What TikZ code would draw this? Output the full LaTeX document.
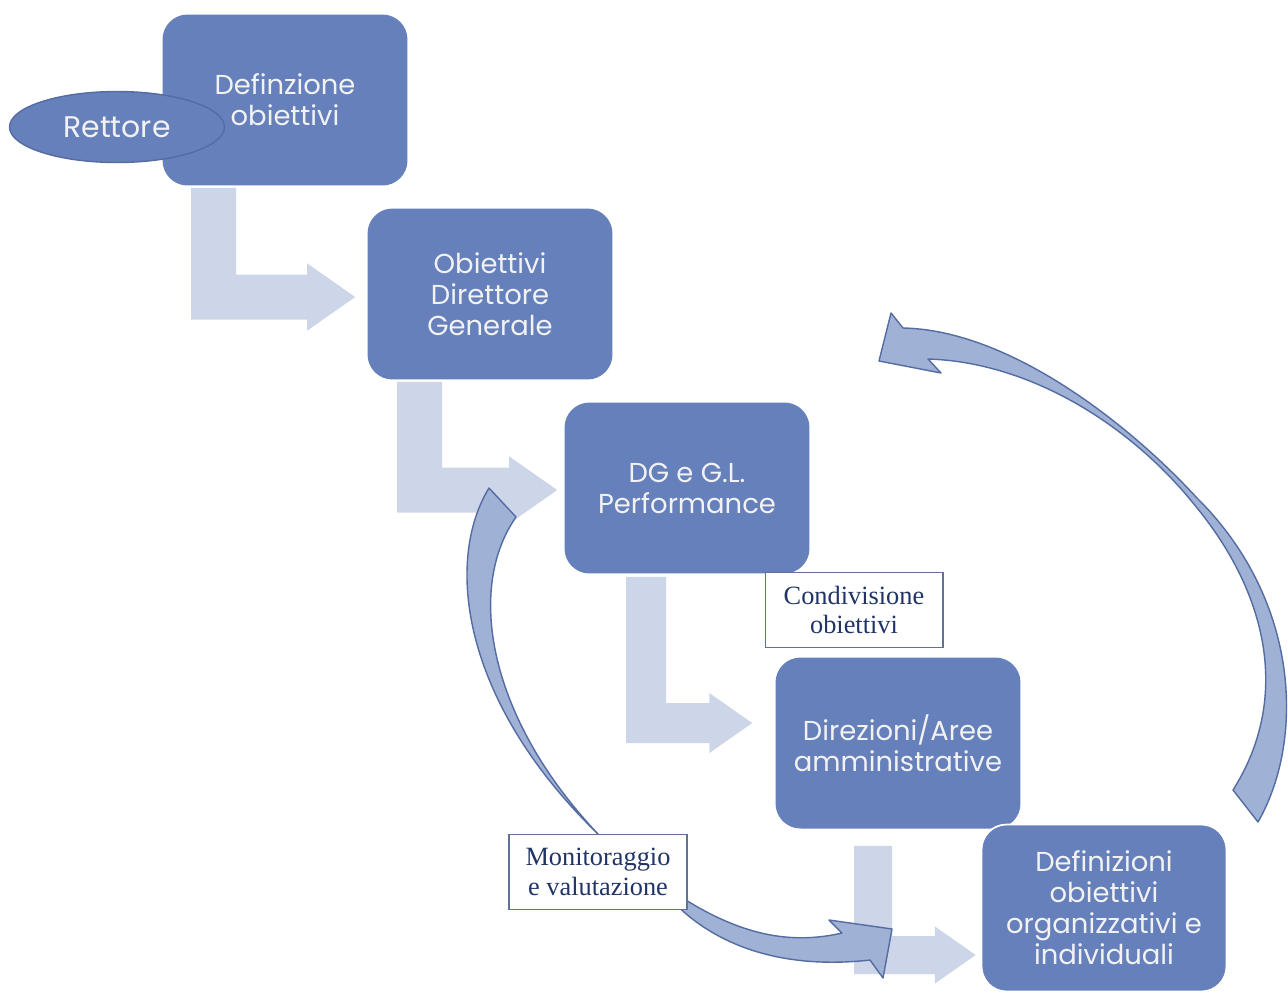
\documentclass[tikz,border=0pt]{standalone}
\usepackage{fontspec}
\usepackage{xcolor}
\usepackage{tikz}
\usetikzlibrary{shapes,arrows.meta,calc}
\setmainfont{Liberation Serif}
\newfontfamily\gothic{Poppins}
\definecolor{boxblue}{RGB}{101,128,187}
\definecolor{paleblue}{RGB}{205,214,232}
\definecolor{curvefill}{RGB}{160,177,214}
\definecolor{curveline}{RGB}{84,108,162}
\definecolor{notenavy}{RGB}{33,52,102}
\pgfdeclarelayer{bg}
\pgfdeclarelayer{mid}
\pgfsetlayers{bg,mid,main}

% bent block arrow: [width] from box, to box, stem shift, tip shift
\newcommand{\bentarrow}[5][45]{%
\coordinate (s) at ($(#2.south west)+#4$);
\coordinate (t) at ($(#3.west)+#5$);
\fill[paleblue] (s) -- ++(#1,0) -- ($(s|-t)+(#1,-0.5*#1)$) -- ($(t)+(-1.07*#1,-0.5*#1)$) -- ($(t)+(-1.07*#1,-0.75*#1)$) -- (t) -- ($(t)+(-1.07*#1,0.75*#1)$) -- ($(t)+(-1.07*#1,0.5*#1)$) -- ($(s|-t)+(0,0.5*#1)$) -- cycle;}

\begin{document}
\begin{tikzpicture}[x=0.02cm, y=-0.02cm,
stepbox/.style={fill=boxblue, rounded corners=0.5cm, minimum width=4.9cm, minimum height=3.42cm, align=center, text=white!95!black, font=\gothic\fontsize{15.6}{17.6}\selectfont},
oval/.style={ellipse, fill=boxblue, draw=curveline, line width=0.8pt, minimum width=4.3cm, minimum height=1.42cm, inner sep=0, text=white!95!black, font=\gothic\fontsize{17}{19}\selectfont},
note/.style={fill=white, draw=curveline!70!gray, line width=0.6pt, minimum width=3.56cm, minimum height=1.5cm, inner sep=2, align=center, text=notenavy, font=\fontsize{15}{17}\selectfont},
curve/.style={fill=curvefill, draw=curveline, line width=0.8pt, line join=round}]
\useasboundingbox (0,0) rectangle (1288,992);
%boxes
\node[stepbox] (b1) at (285,100) {Definzione\\obiettivi};
\node[oval] (rett) at (117,127) {Rettore};
\node[stepbox] (b2) at (490,294) {Obiettivi\\Direttore\\Generale};
\node[stepbox] (b3) at (687,488) {DG e G.L.\\Performance};
\node[stepbox] (b4) at (898,743) {Direzioni/Aree\\amministrative};
\node[stepbox, minimum height=3.34cm, draw=white, line width=1pt] (b5) at (1104,908) {Definizioni\\obiettivi\\organizzativi e\\individuali};
\node[note] (cond) at (854,610) {Condivisione\\obiettivi};
\node[note] (mon) at (598,872) {Monitoraggio\\e valutazione};
\begin{pgfonlayer}{bg}
\fill[white] (0,0) rectangle (1288,992);
\bentarrow{b1}{b2}{(29,2)}{(-12,3)}
\bentarrow{b2}{b3}{(30,2)}{(-7,2)}
\bentarrow[40]{b3}{b4}{(62,3)}{(-23,-20)}
\bentarrow[38]{b4}{b5}{(79,17)}{(-5,47)}
\end{pgfonlayer}
\begin{pgfonlayer}{mid}
\filldraw[curve] (489,488) .. controls (445,560) and (460,700) .. (mon.north) .. controls (490,720) and (465,590) .. (516,517) -- cycle;
\filldraw[curve] ($(mon.south east)+(-8,-14)$) .. controls (740,935) and (790,945) .. (842,933) -- (829,920) -- (892,929) -- (883,978) -- (870,960) .. controls (800,968) and (730,955) .. ($(mon.south east)+(-8,-2)$) -- cycle;
\filldraw[curve] (1258,822) .. controls (1305,740) and (1300,600) .. (1197,498) .. controls (1130,425) and (1010,330) .. (903,328) -- (891,313) -- (879,361) -- (941,373) -- (928,359) .. controls (1030,362) and (1130,425) .. (1193,503) .. controls (1270,595) and (1290,700) .. (1233,790) -- cycle;
\end{pgfonlayer}
\end{tikzpicture}
\end{document}
